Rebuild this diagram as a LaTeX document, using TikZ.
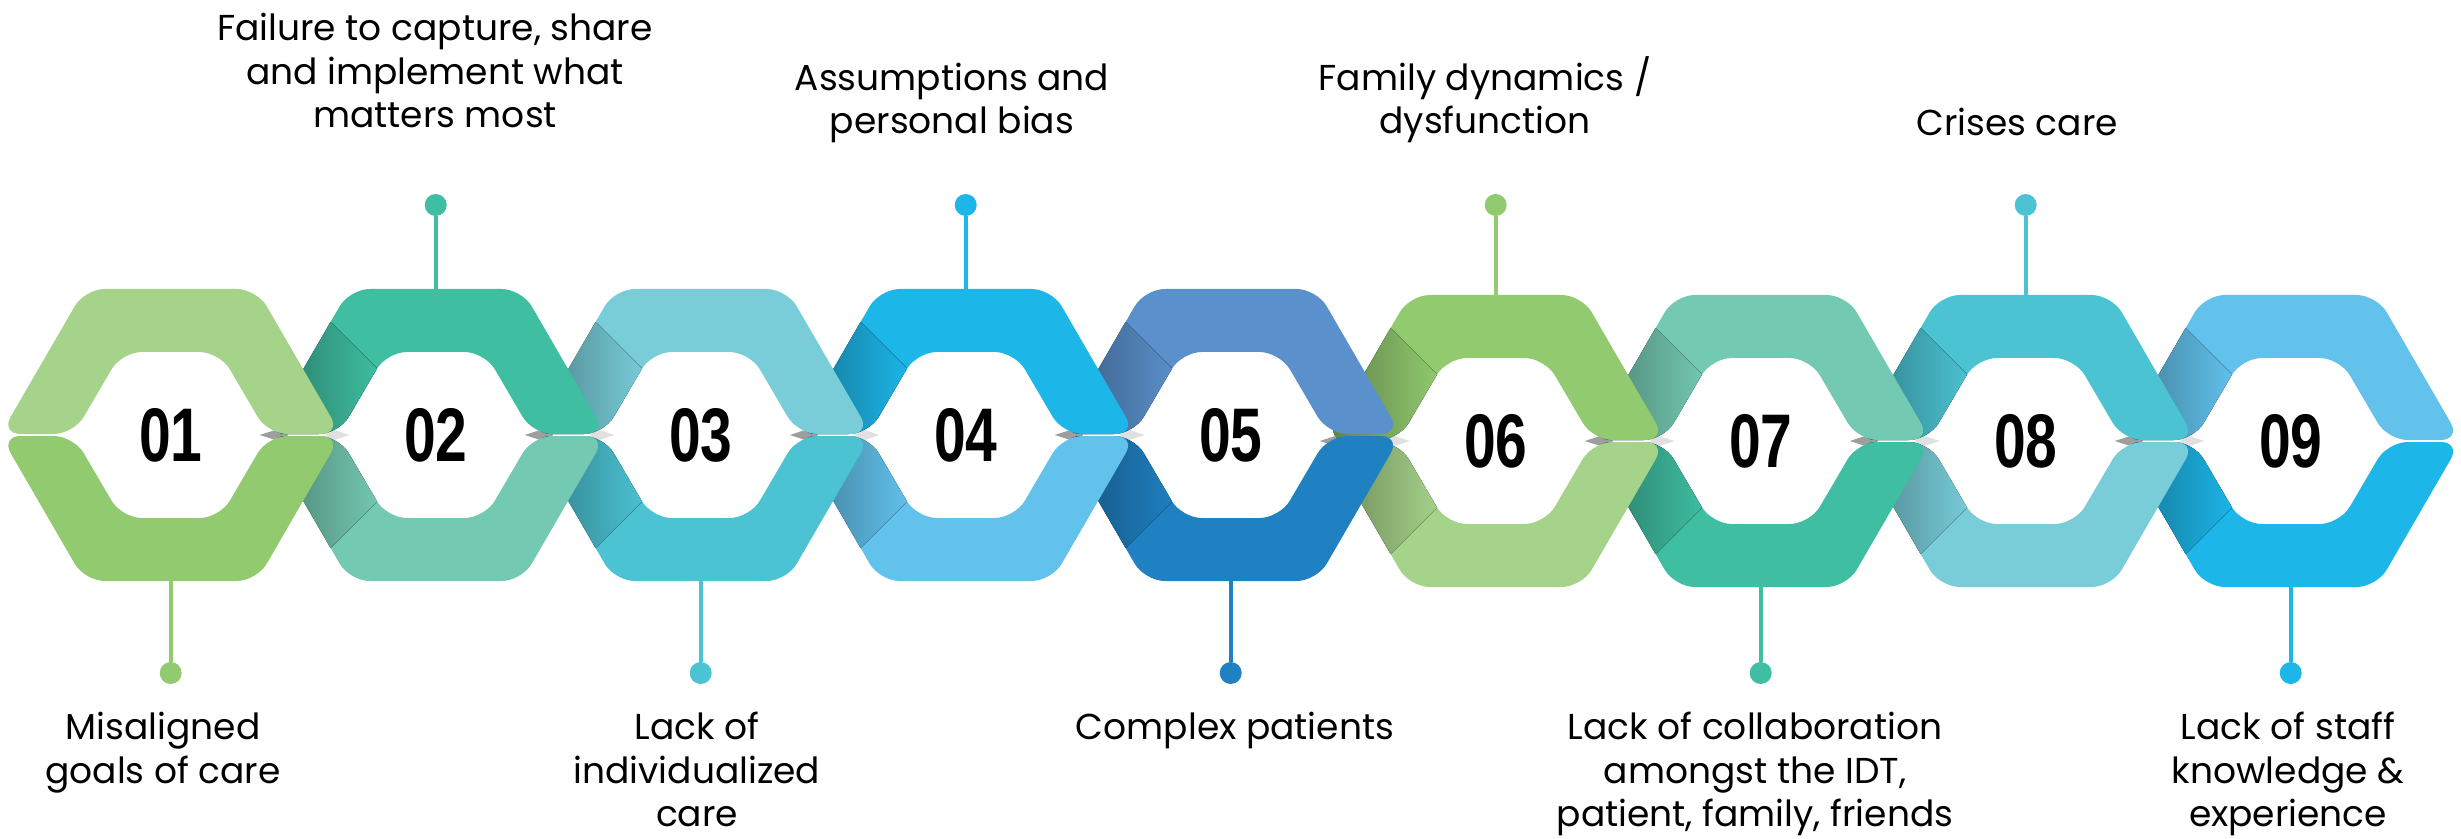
\documentclass[tikz,border=0pt]{standalone}
\usepackage{fontspec}
\setmainfont{Poppins}
\newfontfamily\numfont{Liberation Sans}[FakeStretch=0.75]

\definecolor{leafLt}{HTML}{A6D38A}
\definecolor{leafDk}{HTML}{92CA70}
\definecolor{tealDk}{HTML}{3FBEA1}
\definecolor{tealLt}{HTML}{74C9B2}
\definecolor{aquaLt}{HTML}{78CDD9}
\definecolor{aquaDk}{HTML}{4BC3D3}
\definecolor{skyDk}{HTML}{1DB6E8}
\definecolor{skyLt}{HTML}{62C2EC}
\definecolor{blueLt}{HTML}{5A90CB}
\definecolor{blueDk}{HTML}{1F80C2}

% half of a hexagonal ring around (\cx,\cy); #1 = -1 upper half, +1 lower half
\newcommand{\bandpath}[1]{({\cx-170},{\cy+(#1)}) -- ({\cx-86},{\cy+(#1)*146})
	-- ({\cx+86},{\cy+(#1)*146}) -- ({\cx+170},{\cy+(#1)})
	-- ({\cx+97},{\cy+(#1)}) -- ({\cx+49},{\cy+(#1)*83})
	-- ({\cx-49},{\cy+(#1)*83}) -- ({\cx-97},{\cy+(#1)}) -- cycle}

\tikzset{
	band/.style={fill=#1, rounded corners=10pt},
	num/.style={font=\numfont\bfseries\fontsize{38}{38}\selectfont, inner sep=0},
	pin dot/.style={circle, fill=#1, inner sep=0, minimum size=11pt},
	pin line/.style={draw=#1, line width=2pt},
	cause/.style={align=center, inner sep=0, font=\fontsize{18}{21.6}\selectfont},
}

\begin{document}
\begin{tikzpicture}[x=0.5pt,y=-0.5pt]
	\useasboundingbox (0,0) rectangle (2461,839);
	% grey bits that show through where two links cross
	\foreach \i/\dy in {2/0,3/0,4/0,5/0,6/6,7/6,8/6,9/6} {
		\pgfmathsetmacro\cx{170.7+265*(\i-1)}
		\pgfmathsetmacro\cy{435+\dy}
		\fill[black!38] ({\cx-176},\cy) -- ({\cx-148},{\cy-9}) -- ({\cx-148},{\cy+9}) -- cycle;
		\fill[black!12] ({\cx-110},{\cy-8}) -- ({\cx-86},\cy) -- ({\cx-110},{\cy+8}) -- cycle;
	}
	% links, right to left so each one lies over the next
	\foreach \i/\ctop/\cbot/\dy in {9/skyLt/skyDk/6, 8/aquaDk/aquaLt/6,
			7/tealLt/tealDk/6, 6/leafDk/leafLt/6, 5/blueLt/blueDk/0,
			4/skyDk/skyLt/0, 3/aquaLt/aquaDk/0, 2/tealDk/tealLt/0, 1/leafLt/leafDk/0} {
		\pgfmathsetmacro\cx{170.7+265*(\i-1)}
		\pgfmathsetmacro\cy{435+\dy}
		\fill[band=\ctop] \bandpath{-1};
		\fill[band=\cbot] \bandpath{1};
		\ifnum\i>1
			% shadow under the previous link
			\begin{scope}
				\clip[rounded corners=10pt] \bandpath{-1};
				\fill[left color=\ctop!62!black, right color=\ctop]
					({\cx-175},\cy) -- ({\cx-124},{\cy-132}) -- ({\cx-55},{\cy-63}) -- ({\cx-55},\cy) -- cycle;
			\end{scope}
			\begin{scope}
				\clip[rounded corners=10pt] \bandpath{1};
				\fill[left color=\cbot!62!black, right color=\cbot]
					({\cx-175},\cy) -- ({\cx-124},{\cy+132}) -- ({\cx-55},{\cy+63}) -- ({\cx-55},\cy) -- cycle;
			\end{scope}
			\draw[\ctop!70!black, line width=0.3pt] ({\cx-104},{\cy-112}) -- ({\cx-59},{\cy-67});
			\draw[\cbot!70!black, line width=0.3pt] ({\cx-104},{\cy+112}) -- ({\cx-59},{\cy+67});
		\fi
	}
	% numbers
	\foreach \i/\dy in {1/0,2/0,3/0,4/0,5/0,6/6,7/6,8/6,9/6}
		\node[num] (num-\i) at ({170.7+265*(\i-1)},{435+\dy}) {0\i};
	% pins above the even links
	\foreach \i/\c/\dy in {2/tealDk/0,4/skyDk/0,6/leafDk/6,8/aquaDk/6} {
		\coordinate (top-\i) at ({170.7+265*(\i-1)},{289+\dy});
		\node[pin dot=\c] (dot-\i) at ({170.7+265*(\i-1)},205) {};
		\draw[pin line=\c] (dot-\i) -- (top-\i);
	}
	% pins below the odd links
	\foreach \i/\c/\dy in {1/leafDk/0,3/aquaDk/0,5/blueDk/0,7/tealDk/6,9/skyDk/6} {
		\coordinate (bot-\i) at ({170.7+265*(\i-1)},{581+\dy});
		\node[pin dot=\c] (dot-\i) at ({170.7+265*(\i-1)},673) {};
		\draw[pin line=\c] (dot-\i) -- (bot-\i);
	}
	% causes above
	\foreach \i/\x/\y/\txt in {2/435/128/{Failure to capture, share\\and implement what\\matters most},
			4/952/143/{Assumptions and\\personal bias},
			6/1485/143/{Family dynamics /\\dysfunction},
			8/2017/136/{Crises care}}
		\node[cause, anchor=south] (cause-\i) at (\x,\y) {\txt};
	% causes below
	\foreach \i/\x/\txt in {1/163/{Misaligned\\goals of care},
			3/697/{Lack of\\individualized\\care},
			5/1235/{Complex patients},
			7/1755/{Lack of collaboration\\amongst the IDT,\\patient, family, friends},
			9/2288/{Lack of staff\\knowledge \&\\experience}}
		\node[cause, anchor=north] (cause-\i) at (\x,712) {\txt};
\end{tikzpicture}
\end{document}
